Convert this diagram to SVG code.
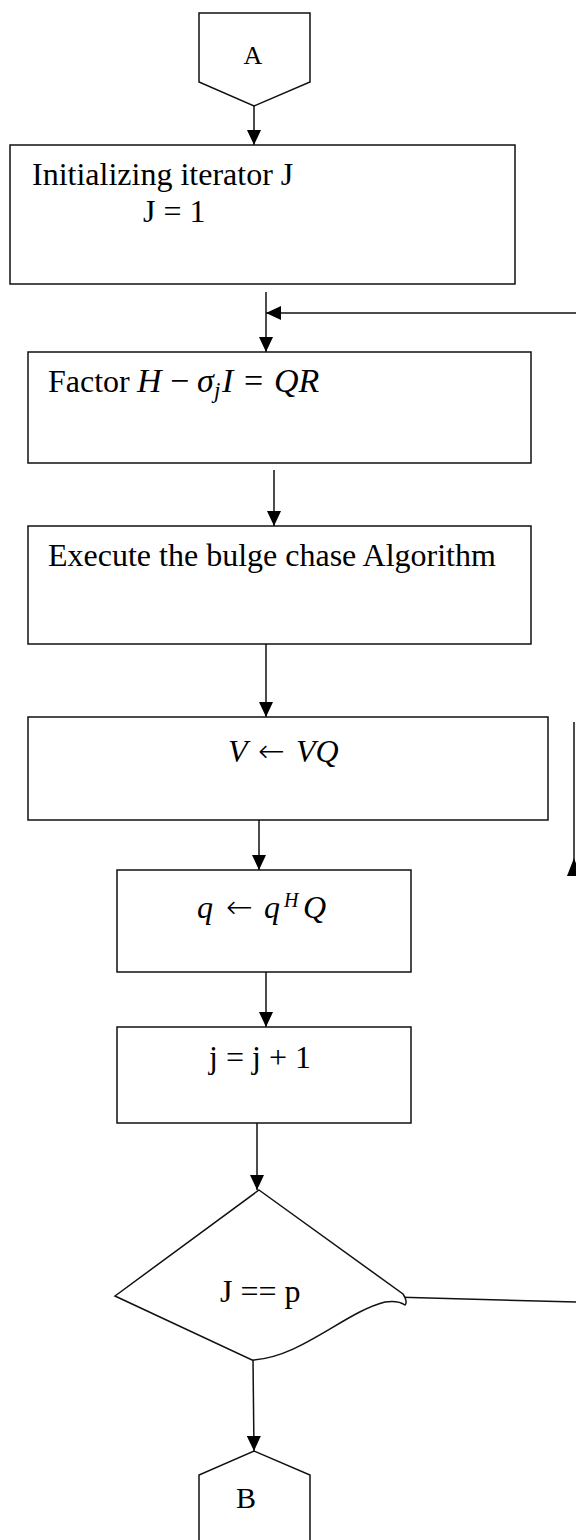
<svg xmlns="http://www.w3.org/2000/svg" width="576" height="1540" viewBox="0 0 576 1540">
<style>
.box{fill:#fff;stroke:#111;stroke-width:1.5}
.ln{fill:none;stroke:#111;stroke-width:1.5}
.t{font-family:"Liberation Serif","Times New Roman",serif;font-size:32px;fill:#000}
.m{font-family:"Liberation Serif","Times New Roman",serif;font-style:italic;font-size:32px;fill:#000}
.op{font-family:"Liberation Serif","Times New Roman",serif;font-style:normal}
.ar{font-family:"DejaVu Sans",sans-serif;font-style:normal;font-weight:200;font-size:32px;fill:#000}
</style>
<defs>
<marker id="ah" markerUnits="userSpaceOnUse" markerWidth="15" markerHeight="14" refX="15" refY="7" orient="auto">
<path d="M0,0 L15,7 L0,14 Z" fill="#000"/>
</marker>
</defs>
<rect width="576" height="1540" fill="#fff"/>
<g id="connectors">
<line class="ln" x1="254" y1="106" x2="254" y2="145" marker-end="url(#ah)"/>
<line class="ln" x1="266" y1="292" x2="266" y2="352" marker-end="url(#ah)"/>
<line class="ln" x1="576" y1="313" x2="266" y2="313" marker-end="url(#ah)"/>
<line class="ln" x1="274" y1="470" x2="274" y2="526" marker-end="url(#ah)"/>
<line class="ln" x1="266" y1="644" x2="266" y2="717" marker-end="url(#ah)"/>
<line class="ln" x1="574" y1="722" x2="574" y2="870"/>
<polygon points="574,858 567,876 581,876" fill="#000"/>
<line class="ln" x1="259" y1="820" x2="259" y2="870" marker-end="url(#ah)"/>
<line class="ln" x1="266" y1="972" x2="266" y2="1027" marker-end="url(#ah)"/>
<line class="ln" x1="257" y1="1123" x2="257" y2="1190" marker-end="url(#ah)"/>
<line class="ln" x1="393" y1="1297" x2="576" y2="1302"/>
<line class="ln" x1="253" y1="1360" x2="254" y2="1451" marker-end="url(#ah)"/>
</g>
<g id="nodeA">
<path class="box" d="M199,13 H310 V82 L254,106 L199,82 Z"/>
<text class="t" x="253" y="64" text-anchor="middle" style="font-size:26px">A</text>
</g>
<g id="init">
<rect class="box" x="10" y="145" width="505" height="139"/>
<text class="t" x="32" y="185">Initializing iterator J</text>
<text class="t" x="143" y="222">J = 1</text>
</g>
<g id="factor">
<rect class="box" x="28" y="352" width="503" height="111"/>
<text class="t" x="48" y="392">Factor</text>
<text class="m" y="392" style="font-size:34px"><tspan x="137">H</tspan><tspan class="op" x="170">−</tspan><tspan x="197">σ</tspan><tspan x="214" dy="6" style="font-size:23px">j</tspan><tspan x="222" dy="-6">I</tspan><tspan class="op" x="244">=</tspan><tspan x="274">QR</tspan></text>
</g>
<g id="bulge">
<rect class="box" x="28" y="526" width="503" height="118"/>
<text class="t" x="48" y="566">Execute the bulge chase Algorithm</text>
</g>
<g id="vq">
<rect class="box" x="28" y="717" width="520" height="103"/>
<text class="m" y="762"><tspan x="228">V</tspan><tspan class="ar" x="258">←</tspan><tspan x="296">VQ</tspan></text>
</g>
<g id="qhq">
<rect class="box" x="117" y="870" width="294" height="102"/>
<text class="m" y="918"><tspan x="197">q</tspan><tspan class="ar" x="226">←</tspan><tspan x="264">q</tspan><tspan x="284" dy="-11" style="font-size:20px">H</tspan><tspan x="303" dy="11">Q</tspan></text>
</g>
<g id="incr">
<rect class="box" x="117" y="1027" width="294" height="96"/>
<text class="t" x="260" y="1068" text-anchor="middle">j = j + 1</text>
</g>
<g id="decision">
<path class="box" d="M259,1190 L403,1294 Q408,1302 405,1305 Q398,1300 385,1302 C345,1312 300,1358 252,1360 L115,1296 Z"/>
<text class="t" x="220" y="1302">J == p</text>
</g>
<g id="nodeB">
<path class="box" d="M199,1541 V1475 L254,1451 L310,1475 V1541"/>
<text class="t" x="246" y="1508" text-anchor="middle" style="font-size:30px">B</text>
</g>
</svg>
